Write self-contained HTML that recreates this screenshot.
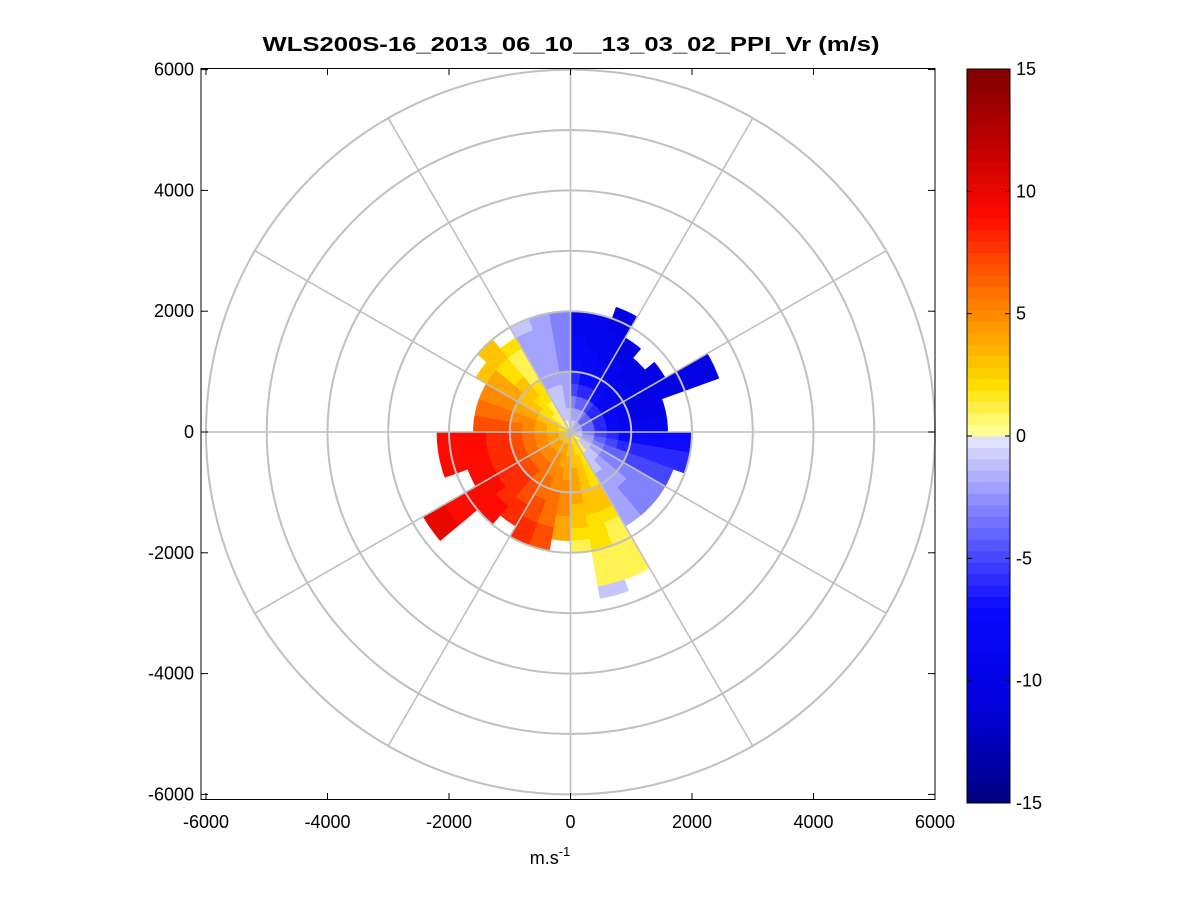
<!DOCTYPE html>
<html><head><meta charset="utf-8"><style>
html,body{margin:0;padding:0;background:#fff;}
svg{display:block;font-family:"Liberation Sans",sans-serif;}
</style></head><body>
<svg id="c" width="1201" height="901" viewBox="0 0 1201 901">
<rect x="0" y="0" width="1201" height="901" fill="#fff"/>
<g id="data"></g>
<g id="grid"></g>
<rect x="201" y="68.5" width="734" height="731" fill="none" stroke="#000" stroke-width="1"/>
<g id="axes"></g>
<text x="571" y="51" font-size="20" font-weight="bold" text-anchor="middle" textLength="617" lengthAdjust="spacingAndGlyphs">WLS200S-16_2013_06_10__13_03_02_PPI_Vr (m/s)</text>
<text x="550" y="864" font-size="18" text-anchor="middle">m.s<tspan dy="-8" font-size="13">-1</tspan></text>
<g id="cbar"></g>
</svg>
<script>
const azStarts=[0,10,20,30,40,50,60,70,80,90,100,110,120,130,140,150,160,170,180,190,200,210,220,230,240,250,260,270,280,290,300,310,320,330,340,350];
const gateSize=200;
const beamValues=[
[-1,-2,-3,-5,-6,-7,-8,-8,-9,-9],
[-1,-2,-4,-6,-7,-8,-8,-9,-9,-9],
[-1,-2,-4,-6,-7,-8,-9,-9,-9,-10,-10],
[-2,-3,-5,-7,-8,-9,-9,-10,-10],
[-2,-4,-6,-8,-9,-9,-10,-10],
[-2,-4,-6,-8,-9,-9,-10,-10,-10],
[-2,-4,-6,-8,-9,-10,-10,-10,-10,-10,-10,-10,-10],
[-2,-4,-6,-8,-9,-10,-10,-10],
[-2,-4,-6,-8,-9,-9,-9,-9],
[-1,-3,-5,-6,-7,-7,-7,-7,-7,-7],
[-1,-2,-4,-5,-6,-6,-6,-6,-6,-6],
[-1,-2,-3,-4,-4,-5,-5,-5,-5],
[1,-1,-2,-3,-3,-3,-3,-3,-3],
[1,-1,-1,-2,-2,-2,-3,-3,-3],
[2,1,-1,-1,-2,-2,-2,-2,-2],
[2,2,2,2,2,3,3,2,1,1,1,1,1],
[2,2,3,3,3,3,3,2,2,2,1,1,1,-1],
[2,3,3,4,4,4,3,3,2,1],
[3,3,4,4,5,5,5,4,4],
[3,4,4,5,5,6,6,6,7,7],
[3,4,5,5,6,6,7,7,8,8],
[3,4,5,6,6,7,7,8,8],
[3,4,5,6,7,8,8,8,9,9],
[3,4,5,6,7,8,8,9,9,9,9,9,10,10],
[3,4,5,6,7,8,8,9,9],
[3,4,5,6,7,8,8,9,9,9,9],
[3,4,5,6,7,8,8,9,9,9,9],
[2,3,4,5,6,7,7,7],
[2,3,4,5,5,6,6,6],
[2,3,3,4,4,5,5,5],
[1,2,2,3,3,4,4,4,3],
[1,1,2,2,3,3,2,2,3,3],
[1,1,1,2,2,1,1,1,2],
[0,-1,-1,-1,-2,-2,-2,-2,-2,-1],
[0,-1,-1,-1,-2,-2,-2,-2,-2,-2],
[-1,-1,-2,-2,-2,-3,-3,-3,-3,-3]
];
const xTicks=[-6000,-4000,-2000,0,2000,4000,6000];
const yTicks=[6000,4000,2000,0,-2000,-4000,-6000];
const ringRadii=[1000,2000,3000,4000,5000,6000];
const spokeAngles=[0,30,60,90,120,150,180,210,240,270,300,330];
const cbTicks=[15,10,5,0,-5,-10,-15];
const NS="http://www.w3.org/2000/svg";
const X0=570.5,SX=0.06075,Y0=432,SY=0.0604;
const sx=v=>X0+v*SX, sy=v=>Y0-v*SY;
function mk(t,a,p){const e=document.createElementNS(NS,t);for(const k in a)e.setAttribute(k,a[k]);p.appendChild(e);return e;}
const stops=[[-15,[0,0,128]],[-11,[0,0,220]],[-7,[10,10,255]],[-3,[130,130,255]],[-0.2,[225,225,255]],[0.2,[255,255,150]],[2,[255,225,0]],[4,[255,165,0]],[6,[255,110,0]],[9,[255,10,0]],[12,[190,0,0]],[15,[128,0,0]]];
function cmap(v){v=Math.max(-15,Math.min(15,v));for(let i=0;i<stops.length-1;i++){const[a,ca]=stops[i],[b,cb]=stops[i+1];if(v<=b){const t=(v-a)/(b-a);return 'rgb('+ca.map((c,j)=>Math.round(c+(cb[j]-c)*t)).join(',')+')';}}return 'rgb(128,0,0)';}
function pt(r,az){const a=az*Math.PI/180;return [sx(r*Math.sin(a)),sy(r*Math.cos(a))];}
const dg=document.getElementById('data');
azStarts.forEach((az,i)=>{
  beamValues[i].forEach((v,g)=>{
    if(v===null)return;
    const r0=g*gateSize,r1=r0+gateSize;let pts=[];
    for(let k=0;k<=4;k++)pts.push(pt(r0,az+k*2.5));
    for(let k=4;k>=0;k--)pts.push(pt(r1,az+k*2.5));
    const p=mk('polygon',{points:pts.map(q=>q[0].toFixed(1)+','+q[1].toFixed(1)).join(' '),fill:cmap(v),stroke:cmap(v),'stroke-width':0.5},dg);
    
    
  });
});
const gg=document.getElementById('grid');
ringRadii.forEach(r=>{const e=mk('ellipse',{cx:X0,cy:Y0,rx:r*SX,ry:r*SY,fill:'none',stroke:'#c0c0c0','stroke-width':2},gg);
});
spokeAngles.forEach(a=>{const p=pt(6000,a);const e=mk('line',{x1:X0,y1:Y0,x2:p[0],y2:p[1],stroke:'#c0c0c0','stroke-width':1.6},gg);
});
const ag=document.getElementById('axes');
xTicks.forEach(v=>{const x=sx(v);mk('line',{x1:x,y1:68.5,x2:x,y2:75,stroke:'#000'},ag);mk('line',{x1:x,y1:799.5,x2:x,y2:793,stroke:'#000'},ag);
const t=mk('text',{x:x,y:828,'font-size':18,'text-anchor':'middle'},ag);t.textContent=v;
});
yTicks.forEach(v=>{const y=sy(v);mk('line',{x1:201,y1:y,x2:208,y2:y,stroke:'#000'},ag);mk('line',{x1:935,y1:y,x2:928,y2:y,stroke:'#000'},ag);
const t=mk('text',{x:194,y:y+6,'font-size':18,'text-anchor':'end'},ag);t.textContent=v;
});
const cg=document.getElementById('cbar');
const CT=69,CB=803,CX=967,CW=43;
for(let i=0;i<64;i++){const v=-15+(i+0.5)*30/64;const y0=CB-(i+1)*(CB-CT)/64;
const r=mk('rect',{x:CX,y:y0,width:CW,height:(CB-CT)/64+0.5,fill:cmap(v)},cg);
}
mk('rect',{x:CX,y:CT,width:CW,height:CB-CT,fill:'none',stroke:'#000'},cg);
cbTicks.forEach(v=>{const y=CB-(v+15)/30*(CB-CT);mk('line',{x1:CX,y1:y,x2:CX+5,y2:y,stroke:'#000'},cg);mk('line',{x1:CX+CW,y1:y,x2:CX+CW-5,y2:y,stroke:'#000'},cg);
const t=mk('text',{x:1016,y:y+6,'font-size':18},cg);t.textContent=v;
});
</script>
</body></html>
